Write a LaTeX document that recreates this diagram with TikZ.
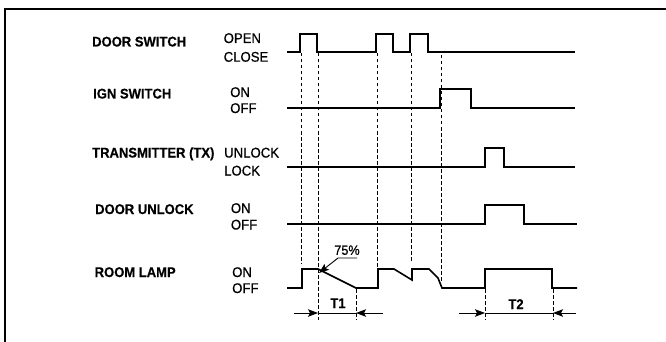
\documentclass[tikz,border=0pt]{standalone}
\usepackage{fontspec}
\setmainfont{Liberation Sans}
\newfontfamily\namefont[FakeStretch=0.93,FakeBold=0.4]{Liberation Sans}
\newfontfamily\statefont[FakeStretch=0.94,FakeBold=0.7]{Liberation Sans}
\usetikzlibrary{arrows.meta}
\begin{document}
\begin{tikzpicture}[x=1pt,y=-1pt,
  sig/.style={line width=1.6pt, line join=miter},
  guide/.style={line width=0.6pt, dash pattern=on 3.5pt off 2.5pt},
  dim/.style={line width=0.9pt},
  tip/.style={-{Stealth[length=10pt,width=7.5pt,inset=2pt]}},
  sname/.style={anchor=west, inner sep=0pt, font=\namefont\fontsize{14}{15}\selectfont\bfseries, text height=10pt, text depth=0pt},
  state/.style={anchor=west, inner sep=0pt, font=\statefont\fontsize{14}{15}\selectfont, text height=10pt, text depth=0pt},
  dimlabel/.style={inner sep=0pt, font=\namefont\fontsize{14}{15}\selectfont\bfseries, text height=10pt, text depth=0pt},
  pct/.style={inner sep=0pt, font=\statefont\fontsize{13.5}{14}\selectfont, text height=9.6pt, text depth=0pt}]
\useasboundingbox (0,0) rectangle (666,342);
% frame
\draw[line width=2.2pt] (5,342) -- (5,9) -- (666,9);
% signal names
\node[sname] (ndoor) at (92,41.5) {DOOR SWITCH};
\node[sname] (nign) at (93,93.5) {IGN SWITCH};
\node[sname] (ntx) at (92,152.5) {TRANSMITTER (TX)};
\node[sname] (nunl) at (95,209) {DOOR UNLOCK};
\node[sname] (nlamp) at (94.5,272) {ROOM LAMP};
% states
\node[state] (sopen) at (223.5,38) {OPEN};
\node[state] (sclose) at (223.5,56.7) {CLOSE};
\node[state] (signon) at (230,92) {ON};
\node[state] (signoff) at (230,108) {OFF};
\node[state] (stxu) at (224,152.5) {UNLOCK};
\node[state] (stxl) at (224,170.5) {LOCK};
\node[state] (sduon) at (230.7,208) {ON};
\node[state] (sduoff) at (230.7,224.5) {OFF};
\node[state] (slon) at (232,272) {ON};
\node[state] (sloff) at (232,288) {OFF};
% waveforms
\draw[sig] (287,52) -- (300,52) -- (300,34) -- (317,34) -- (317,52) -- (376,52) -- (376,34) -- (393,34) -- (393,52) -- (410,52) -- (410,34) -- (428,34) -- (428,52) -- (575,52);
\draw[sig] (287,108) -- (440,108) -- (440,89) -- (471,89) -- (471,108) -- (575,108);
\draw[sig] (287,167) -- (485,167) -- (485,148) -- (504,148) -- (504,167) -- (575,167);
\draw[sig] (287,224) -- (485,224) -- (485,205) -- (524,205) -- (524,224) -- (577,224);
\draw[sig] (287,288) -- (302,288) -- (302,269) -- (318,269) -- (356,288) -- (378,288) -- (378,269) -- (394,269) -- (412,280) -- (412,269) -- (429,269) -- (438,278) -- (442,288) -- (485,288) -- (485,269) -- (552,269) -- (552,288) -- (577,288);
% guide lines
\draw[guide] (301,53) -- (301,264);
\draw[guide] (318,53) -- (318,320);
\draw[guide] (377,53) -- (377,269);
\draw[guide] (411,53) -- (411,262);
\draw[guide] (441,55) -- (441,282);
\draw[guide] (356,289) -- (356,320);
\draw[guide] (485,289) -- (485,320);
\draw[guide] (553,289) -- (553,320);
% dimension T1
\coordinate (t1a) at (294,313);
\coordinate (t1b) at (318,313);
\coordinate (t1c) at (356,313);
\coordinate (t1d) at (383,313);
\draw[dim] (t1b) -- (t1c);
\draw[dim,tip] (t1a) -- (t1b);
\draw[dim,tip] (t1d) -- (t1c);
\node[dimlabel] (lt1) at (338,303) {T1};
% dimension T2
\coordinate (t2a) at (459,313);
\coordinate (t2b) at (485,313);
\coordinate (t2c) at (553,313);
\coordinate (t2d) at (576,313);
\draw[dim] (t2b) -- (t2c);
\draw[dim,tip] (t2a) -- (t2b);
\draw[dim,tip] (t2d) -- (t2c);
\node[dimlabel] (lt2) at (516,304) {T2};
% 75% leader
\node[pct] (p75) at (347,250) {75\%};
\coordinate (la) at (357,258);
\coordinate (lb) at (338,258);
\coordinate (lc) at (319,273);
\draw[dim,tip] (la) -- (lb) -- (lc);
\end{tikzpicture}
\end{document}
